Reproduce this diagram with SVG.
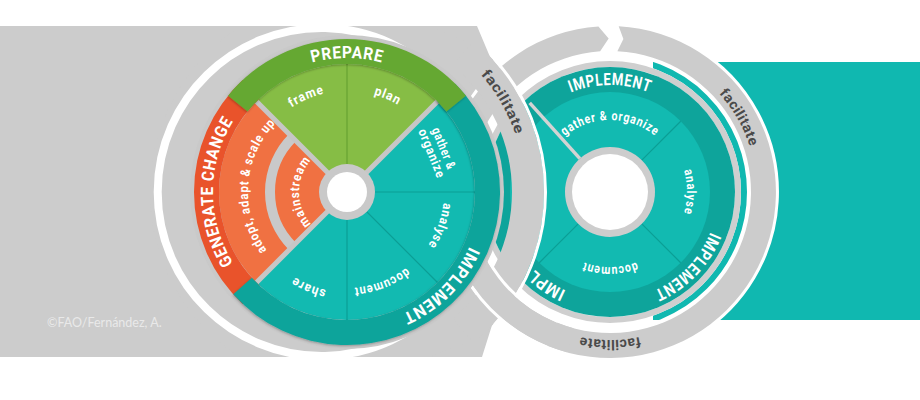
<svg xmlns="http://www.w3.org/2000/svg" width="920" height="400" viewBox="0 0 920 400">
<defs>
<style>
.band{font-family:"Roboto","DejaVu Sans",sans-serif;font-weight:bold;font-size:17px;fill:#ffffff;letter-spacing:0.8px}
.seg{font-family:"Roboto","DejaVu Sans",sans-serif;font-weight:bold;font-size:13px;fill:#ffffff;letter-spacing:1px}
.fac{font-family:"Roboto","DejaVu Sans",sans-serif;font-weight:bold;font-size:14px;fill:#4a4a4a;letter-spacing:0.4px}
.copy{font-family:"Lato","Open Sans",sans-serif;font-size:12.5px;fill:#e9e9e9}
.grey{fill:#cccccc}
.sep{stroke:#c6c6c6;stroke-width:5;stroke-linecap:butt}
.tdiv{stroke:#0b9e95;stroke-width:1.2}
.wline{fill:none;stroke:#ffffff;stroke-width:3}
</style>
<filter id="sh" x="-10%" y="-10%" width="120%" height="120%"><feDropShadow dx="-0.5" dy="1" stdDeviation="1.2" flood-color="#000000" flood-opacity="0.28"/></filter>
<clipPath id="bgclip"><rect x="0" y="26" width="920" height="331"/></clipPath>
<clipPath id="tealclip"><rect x="653" y="62" width="267" height="258"/></clipPath>
<clipPath id="outsideL"><path clip-rule="evenodd" d="M0,0H920V400H0Z M504,192 A157,157 0 1,0 190,192 A157,157 0 1,0 504,192Z"/></clipPath>
<path id="pPrep" d="M230.95,125 A134,134 0 0 1 463.05,125"/>
<path id="pGen" d="M280,308.05 A134,134 0 0 1 280,75.95"/>
<path id="pImpL" d="M476.43,157.32 A134,134 0 0 1 312.32,321.43"/>
<path id="pFrame" d="M257.01,146.15 A101,101 0 0 1 376.53,95.41"/>
<path id="pPlan" d="M317.47,95.41 A101,101 0 0 1 436.99,146.15"/>
<path id="pAdopt" d="M278.23,263.21 A99,99 0 0 1 288.81,111.91"/>
<path id="pMain" d="M323,233.57 A48,48 0 0 1 323,150.43"/>
<path id="pAnal" d="M438.15,158.83 A97,97 0 0 1 395.5,276.0"/>
<path id="pDoc" d="M430.96,238.54 A96,96 0 0 1 315.74,282.77"/>
<path id="pShare" d="M377.90,287.11 A100,100 0 0 1 258.71,238.95"/>
<path id="pFacL" d="M407.88,24.73 A178,178 0 0 1 522.30,222.91"/>
<path id="pImpRT" d="M517.34,138.5 A107,107 0 0 1 702.66,138.5"/>
<path id="pGath" d="M547.65,156 A72,72 0 0 1 672.35,156"/>
<path id="pAnalR" d="M668.99,142.51 A77,77 0 0 1 668.99,241.49"/>
<path id="pDocR" d="M658.21,249.45 A75,75 0 0 1 561.79,249.45"/>
<path id="pImpRBR" d="M717.41,180.71 A108,108 0 0 1 602.47,299.74"/>
<path id="pImpRBL" d="M569.54,292.14 A108,108 0 0 1 503.64,210.75"/>
<path id="pFacR1" d="M660.28,53.87 A147,147 0 0 1 754.77,217.53"/>
<path id="pFacR2" d="M705.13,305.37 A148,148 0 0 1 514.87,305.37"/>
</defs>

<g id="background">
<rect x="653" y="62" width="267" height="258" fill="#10b8b0"/>
<g clip-path="url(#bgclip)" class="grey">
<rect x="0" y="26" width="347" height="331"/>
<circle cx="347" cy="192" r="197"/>
<path d="M430,26 L477,26 L493,64 L468,42 Z"/>
<path d="M430,357 L482,357 L493,322 L468,342 Z"/>
</g>
<text class="copy" x="47" y="327">©FAO/Fernández, A.</text>
</g>

<g id="right-cycle">
<circle cx="610" cy="192" r="141" fill="#ffffff"/>
<circle cx="610" cy="192" r="134" fill="none" stroke="#10b8b0" stroke-width="6" clip-path="url(#tealclip)"/>
<circle cx="610" cy="192" r="128" fill="none" stroke="#cfcfcf" stroke-width="6"/>
<circle cx="610" cy="192" r="125" fill="#0ea49b"/>
<circle cx="610" cy="192" r="100" fill="#12bab1"/>
<g class="tdiv">
<line x1="641.82" y1="160.18" x2="680.71" y2="121.29"/>
<line x1="641.82" y1="223.82" x2="680.71" y2="262.71"/>
<line x1="578.18" y1="223.82" x2="539.29" y2="262.71"/>
</g>
<line x1="579.9" y1="158.6" x2="529.7" y2="102.8" stroke="#d3d3d3" stroke-width="3.5"/>
<circle cx="610" cy="192" r="45" fill="#cdcdcd"/>
<circle cx="610" cy="192" r="38" fill="#ffffff"/>
<text class="band" font-size="15"><textPath href="#pImpRT" startOffset="50%" text-anchor="middle" textLength="80" lengthAdjust="spacingAndGlyphs">IMPLEMENT</textPath></text>
<text class="seg" font-size="12.5"><textPath href="#pGath" startOffset="50%" text-anchor="middle" textLength="98" lengthAdjust="spacingAndGlyphs">gather &amp; organize</textPath></text>
<text class="seg" font-size="12.5"><textPath href="#pAnalR" startOffset="50%" text-anchor="middle" textLength="44" lengthAdjust="spacingAndGlyphs">analyse</textPath></text>
<text class="seg" font-size="12.5"><textPath href="#pDocR" startOffset="50%" text-anchor="middle" textLength="54" lengthAdjust="spacingAndGlyphs">document</textPath></text>
<text class="band" font-size="15"><textPath href="#pImpRBR" startOffset="50%" text-anchor="middle" textLength="84" lengthAdjust="spacingAndGlyphs">IMPLEMENT</textPath></text>
<text class="band" font-size="15"><textPath href="#pImpRBL" startOffset="4" textLength="38" lengthAdjust="spacingAndGlyphs">IMPL</textPath></text>
<path id="right-facilitate-ring" fill="#cccccc" stroke="#ffffff" stroke-width="6" paint-order="stroke" d="M618.69,26.23 A166,166 0 1 1 598.42,26.40 L608.66,38.51 L600.16,51.34 A141,141 0 1 0 617.38,51.19 L623.38,39.08 Z"/>
<text class="fac"><textPath href="#pFacR1" startOffset="50%" text-anchor="middle" textLength="62" lengthAdjust="spacingAndGlyphs">facilitate</textPath></text>
<text class="fac"><textPath href="#pFacR2" startOffset="50%" text-anchor="middle" textLength="60" lengthAdjust="spacingAndGlyphs">facilitate</textPath></text>
</g>

<g id="left-cycle">
<path d="M441.23,304.29 A164,164 0 1 1 441.23,79.71" fill="none" stroke="#ffffff" stroke-width="8"/>
<circle cx="347" cy="192" r="157" fill="#c9c9c9"/>
<path id="wedge-prepare" d="M347,192 L256.49,101.49 A128,128 0 0 1 437.51,101.49 Z" fill="#86bd45"/>
<line x1="347" y1="192" x2="347" y2="64" stroke="#6ca836" stroke-width="1.5"/>
<path d="M347,192 L437.51,101.49 A128,128 0 0 1 437.51,282.51 Z" fill="#12bab1"/>
<path d="M347,192 L437.51,282.51 A128,128 0 0 1 256.49,282.51 Z" fill="#12bab1"/>
<g class="tdiv">
<line x1="347" y1="192" x2="475" y2="192"/>
<line x1="347" y1="192" x2="437.51" y2="282.51"/>
<line x1="347" y1="192" x2="347" y2="320"/>
</g>
<path d="M347,192 L256.49,282.51 A128,128 0 0 1 256.49,101.49 Z" fill="#f07142"/>
<path d="M292.55,246.45 A77,77 0 0 1 292.55,137.55" fill="none" stroke="#c9c9c9" stroke-width="10"/>
<g class="sep">
<line x1="347" y1="192" x2="255.08" y2="100.08"/>
<line x1="347" y1="192" x2="438.92" y2="100.08"/>
<line x1="347" y1="192" x2="255.08" y2="283.92"/>
</g>
<path id="band-generate" d="M242.65,303.90 A153,153 0 0 1 242.65,80.10 L259.70,98.38 A128,128 0 0 0 259.70,285.62 Z" fill="#e9532b"/>
<path id="band-implement" filter="url(#sh)" d="M455.19,83.81 A153,153 0 1 1 233.30,294.37 L251.88,277.65 A128,128 0 1 0 437.51,101.49 Z" fill="#0ea49b"/>
<path id="band-prepare" filter="url(#sh)" d="M228.10,95.72 A153,153 0 0 1 465.90,95.72 L446.47,111.45 A128,128 0 0 0 247.53,111.45 Z" fill="#65a832"/>
<circle cx="347" cy="192" r="28" fill="#c9c9c9"/>
<circle cx="347" cy="192" r="20" fill="#ffffff"/>
<text class="band"><textPath href="#pPrep" startOffset="50%" text-anchor="middle" textLength="71" lengthAdjust="spacingAndGlyphs">PREPARE</textPath></text>
<text class="band"><textPath href="#pGen" startOffset="50%" text-anchor="middle" textLength="150" lengthAdjust="spacingAndGlyphs">GENERATE CHANGE</textPath></text>
<text class="band"><textPath href="#pImpL" startOffset="50%" text-anchor="middle" textLength="98" lengthAdjust="spacingAndGlyphs">IMPLEMENT</textPath></text>
<text class="seg"><textPath href="#pFrame" startOffset="50%" text-anchor="middle" textLength="36" lengthAdjust="spacingAndGlyphs">frame</textPath></text>
<text class="seg"><textPath href="#pPlan" startOffset="50%" text-anchor="middle" textLength="27" lengthAdjust="spacingAndGlyphs">plan</textPath></text>
<text class="seg" font-size="12.5"><textPath href="#pAdopt" startOffset="50%" text-anchor="middle" textLength="138" lengthAdjust="spacingAndGlyphs">adopt, adapt &amp; scale up</textPath></text>
<text class="seg"><textPath href="#pMain" startOffset="50%" text-anchor="middle" textLength="70" lengthAdjust="spacingAndGlyphs">mainstream</textPath></text>
<text class="seg" font-size="12" transform="translate(438,151) rotate(68)" text-anchor="middle"><tspan x="0" y="-2" textLength="44" lengthAdjust="spacingAndGlyphs">gather &amp;</tspan><tspan x="0" y="11" textLength="52" lengthAdjust="spacingAndGlyphs">organize</tspan></text>
<text class="seg"><textPath href="#pAnal" startOffset="50%" text-anchor="middle" textLength="46" lengthAdjust="spacingAndGlyphs">analyse</textPath></text>
<text class="seg"><textPath href="#pDoc" startOffset="50%" text-anchor="middle" textLength="57" lengthAdjust="spacingAndGlyphs">document</textPath></text>
<text class="seg"><textPath href="#pShare" startOffset="50%" text-anchor="middle" textLength="35" lengthAdjust="spacingAndGlyphs">share</textPath></text>
</g>

<g id="left-facilitate-ring">
<path d="M473.63,41.10 A197,197 0 0 1 473.63,342.90 L453.06,318.39 A165,165 0 0 0 453.06,65.61 Z" fill="#cccccc"/>
<path class="wline" d="M494.51,59.18 A198.5,198.5 0 0 1 494.51,324.82"/>
<text class="fac"><textPath href="#pFacL" startOffset="50%" text-anchor="middle" textLength="70" lengthAdjust="spacingAndGlyphs">facilitate</textPath></text>
</g>

<g id="right-ring-crossing" clip-path="url(#outsideL)">
<path d="M567.04,352.34 A166,166 0 0 1 454.01,248.78 L477.50,240.22 A141,141 0 0 0 573.51,328.20 Z" fill="#cccccc"/>
<path class="wline" d="M547.25,347.30 A167.5,167.5 0 0 1 464.94,275.75"/>
<path class="wline" d="M557.74,321.34 A139.5,139.5 0 0 1 489.19,261.75"/>
</g>
</svg>
